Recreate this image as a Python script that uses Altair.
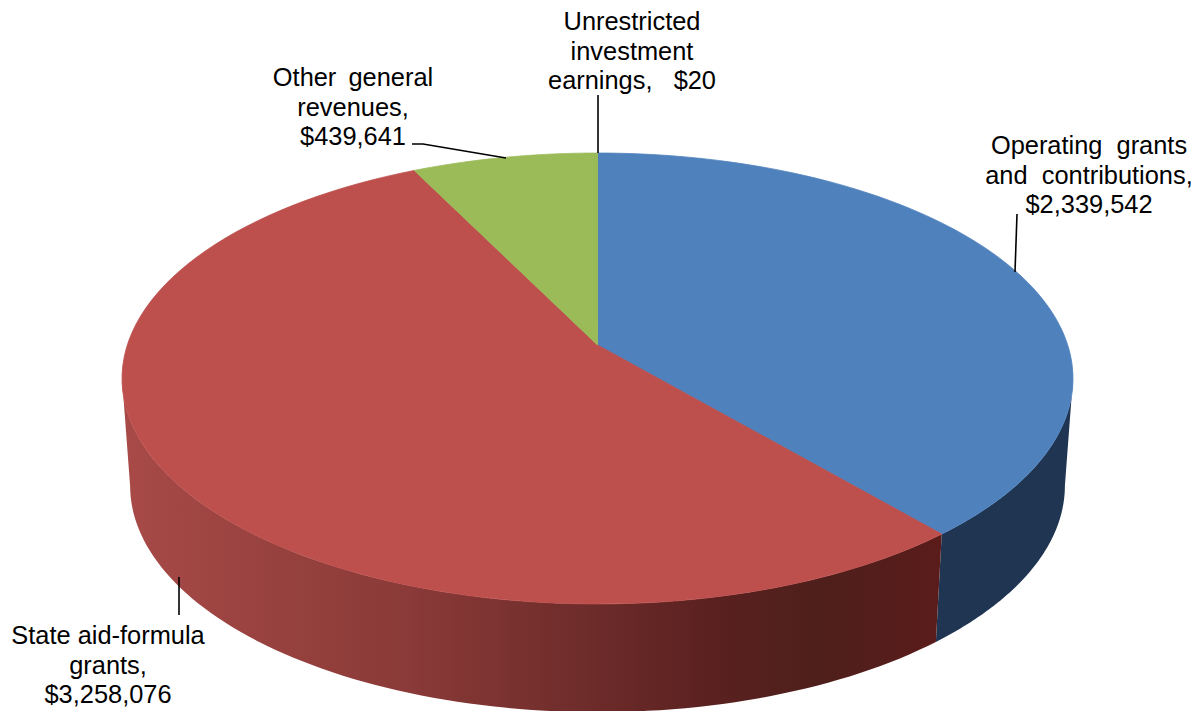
import math
import altair as alt
import pandas as pd

categories = ["Operating grants and contributions", "State aid-formula grants",
              "Other general revenues", "Unrestricted investment earnings"]
values = [2339542, 3258076, 439641, 20]
top_colors = ["#4f81bd", "#bd4f4c", "#9bbb59", "#9bbb59"]

NB = "\u00a0"
label_lines = [
    ["Operating " + NB + "grants", "and " + NB + "contributions,", "$2,339,542"],
    ["State aid-formula", "grants,", "$3,258,076"],
    ["Other \u2009general", "revenues,", "$439,641"],
    ["Unrestricted", "investment", "earnings, " + NB + NB + "$20"],
]
label_anchor = [(1089, 146), (108, 636), (353, 78), (632, 22)]
line_step = 29.7
leaders = [
    [(1017, 214), (1015, 272)],
    [(179, 577), (179, 615)],
    [(412, 144), (423, 144), (506, 158)],
    [(598, 95), (598, 153)],
]

# Perspective disc model (screen units)
CX = 597.5
TOP = dict(y0=345.0, a=470.2, b=220.5, k=0.1486)
BOT = dict(y0=452.0, a=462.2, b=221.5, k=0.1486)


def project(t_deg, m):
    t = math.radians(t_deg)
    u, v = math.sin(t), math.cos(t)
    d = 1 + m["k"] * v
    return CX + m["a"] * u / d, m["y0"] - m["b"] * v / d


def sweep(a, b, m, n=90):
    return [project(a + (b - a) * i / n, m) for i in range(n + 1)]


total = sum(values)
angles = [0]
for val in values:
    angles.append(angles[-1] + val / total * 360)

X = alt.X("x:Q", axis=None, scale=alt.Scale(domain=[8, 1192], range=[0, 1184], nice=False, zero=False))
Y = alt.Y("y:Q", axis=None, scale=alt.Scale(domain=[711, 8], range=[703, 0], nice=False, zero=False))
ORDER = alt.Order("i:Q")


def polygon(points, fill, seam=None):
    df = pd.DataFrame(points, columns=["x", "y"])
    df["i"] = range(len(df))
    opts = dict(fill=fill, interpolate="linear-closed")
    if seam:
        opts.update(stroke=seam, strokeWidth=0.8)
    else:
        opts.update(stroke=None, strokeWidth=0)
    return alt.Chart(df).mark_line(**opts).encode(x=X, y=Y, order=ORDER)


def grad(stops):
    return alt.Gradient(gradient="linear", x1=0, x2=1, y1=0, y2=0,
                        stops=[alt.GradientStop(offset=o, color=c) for o, c in stops])


def tangent(m):
    # angle at which the projected rim reaches its widest point
    return math.degrees(math.acos(-m["k"]))


layers = []
tl = tangent(TOP)
bl = tangent(BOT)
# walls
blue_wall = sweep(tl, angles[1], TOP) + sweep(angles[1], bl, BOT)
layers.append(polygon(blue_wall, "#1f3552"))
red_wall = sweep(angles[1], 360 - tl, TOP) + sweep(360 - bl, angles[1], BOT)
red_grad = grad([(0, "#a84a48"), (0.2, "#96413e"), (0.35, "#8a3a38"), (0.55, "#702d2b"),
                 (0.72, "#5a2120"), (0.85, "#4e1f1c"), (1, "#5a1c1a")])
layers.append(polygon(red_wall, red_grad))

# top faces
for i, c in enumerate(top_colors):
    pts = [project(0, dict(TOP, a=0, b=0))] + sweep(angles[i], angles[i + 1], TOP)
    layers.append(polygon(pts, c, seam=c))

# leaders
for seg in leaders:
    df = pd.DataFrame(seg, columns=["x", "y"])
    df["i"] = range(len(df))
    layers.append(alt.Chart(df).mark_line(color="#000000", strokeWidth=1.6).encode(x=X, y=Y, order=ORDER))

# labels
rows = []
for lines, (ax, ay) in zip(label_lines, label_anchor):
    for j, s in enumerate(lines):
        rows.append({"x": ax, "y": ay + j * line_step, "t": s})
layers.append(alt.Chart(pd.DataFrame(rows)).mark_text(
    font="Liberation Sans", fontSize=25.4, color="#000000", align="center", baseline="middle"
).encode(x=X, y=Y, text="t:N"))

chart = alt.layer(*layers).properties(
    width=1184, height=703, padding=0, autosize=alt.AutoSizeParams(type="none"), background="#ffffff"
).configure_view(stroke=None)

chart.save("out.html", embed_options={"renderer": "svg", "actions": False})
